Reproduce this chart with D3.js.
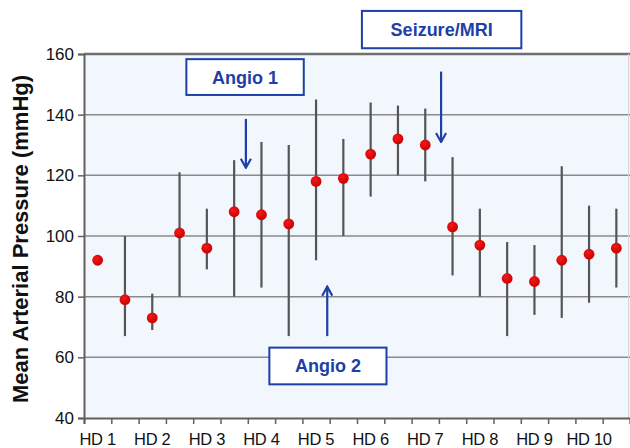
<!DOCTYPE html>
<html>
<head>
<meta charset="utf-8">
<script src="https://cdn.jsdelivr.net/npm/d3@7"></script>
<style>
  body { margin: 0; background: #fff; }
  text { font-family: "Liberation Sans", Arial, sans-serif; }
</style>
</head>
<body>
<div id="chart"></div>
<script>
// one slot per half-day, labels every other slot
var slots = d3.range(20);
var dayLabels = ["HD 1", "HD 2", "HD 3", "HD 4", "HD 5", "HD 6", "HD 7", "HD 8", "HD 9", "HD 10"];
var mapMean = [92, 79, 73, 101, 96, 108, 107, 104, 118, 119, 127, 132, 130, 103, 97, 86, 85, 92, 94, 96];
var mapHigh = [null, 100, 81, 121, 109, 125, 131, 130, 145, 132, 144, 143, 142, 126, 109, 98, 97, 123, 110, 109];
var mapLow  = [null, 67, 69, 80, 89, 80, 83, 67, 92, 100, 113, 120, 118, 87, 80, 67, 74, 73, 78, 83];
var yTicks = [40, 60, 80, 100, 120, 140, 160];

// annotations: x in slot units, y in mmHg
var notes = [
  {label: "Angio 1",     x0: 3.75, x1: 8.05,  y0: 158.3, y1: 146.5, ax: 5.93,  ay0: 138.6, ay1: 122.5},
  {label: "Seizure/MRI", x0: 10.18, x1: 16.02, y0: 174.2, y1: 161.9, ax: 13.08, ay0: 154.2, ay1: 131},
  {label: "Angio 2",     x0: 6.79, x1: 11.08, y0: 63.2,  y1: 51.1,  ax: 8.91,  ay0: 67,    ay1: 83.3}
];

var width = 630, height = 448;
var margin = {top: 54, right: 0, bottom: 30, left: 84};

var svg = d3.select("#chart").append("svg")
    .attr("width", width)
    .attr("height", height);

var x = d3.scaleBand()
    .domain(slots)
    .range([margin.left, width - margin.right]);

var xl = d3.scaleLinear()
    .domain([0, slots.length])
    .range([margin.left, width - margin.right]);

var y = d3.scaleLinear()
    .domain([40, 160])
    .range([height - margin.bottom, margin.top]);

var defs = svg.append("defs");
var grad = defs.append("radialGradient")
    .attr("id", "dotgrad")
    .attr("cx", "40%").attr("cy", "35%").attr("r", "65%");
grad.append("stop").attr("offset", "0%").attr("stop-color", "#f21a1a");
grad.append("stop").attr("offset", "100%").attr("stop-color", "#cc0000");

var marker = defs.append("marker")
    .attr("id", "arrowhead")
    .attr("viewBox", "0 0 10 10")
    .attr("refX", 9).attr("refY", 5)
    .attr("markerWidth", 12).attr("markerHeight", 12)
    .attr("markerUnits", "userSpaceOnUse")
    .attr("orient", "auto");
marker.append("path")
    .attr("d", "M1.5,0.8 L9,5 L1.5,9.2")
    .attr("fill", "none")
    .attr("stroke", "#1c3fa8")
    .attr("stroke-width", 1.8);

// plot background
svg.append("rect")
    .attr("x", margin.left)
    .attr("y", y(160))
    .attr("width", width - margin.right - margin.left)
    .attr("height", y(40) - y(160))
    .attr("fill", "#f2f6fd");

// gridlines
svg.append("g")
    .selectAll("line")
    .data(yTicks.slice(1))
    .enter().append("line")
    .attr("x1", margin.left)
    .attr("x2", width - margin.right)
    .attr("y1", function(d) { return y(d); })
    .attr("y2", function(d) { return y(d); })
    .attr("stroke", function(d) { return d === 160 ? "#707070" : "#8a8a8a"; })
    .attr("stroke-width", function(d) { return d === 160 ? 2.5 : 1.5; });

svg.append("line")
    .attr("x1", width - 1.5).attr("x2", width - 1.5)
    .attr("y1", y(160)).attr("y2", y(40))
    .attr("stroke", "#d0d4dc")
    .attr("stroke-width", 1);

// y axis
var yAxis = svg.append("g")
    .attr("transform", "translate(" + margin.left + ",0)")
    .call(d3.axisLeft(y).tickValues(yTicks).tickSize(6).tickPadding(4));
yAxis.select(".domain").attr("stroke", "#606060").attr("stroke-width", 2);
yAxis.selectAll(".tick line").attr("stroke", "#606060").attr("stroke-width", 1.5);
yAxis.selectAll(".tick text")
    .attr("fill", "#111")
    .style("font-size", "17px")
    .style("font-family", "'Liberation Sans', Arial, sans-serif");

// x axis: ticks at slot boundaries, labels under even slots
var xAxis = svg.append("g")
    .attr("transform", "translate(0," + y(40) + ")")
    .call(d3.axisBottom(xl).tickValues(d3.range(0, slots.length + 1)).tickSize(6).tickFormat(""));
xAxis.select(".domain").attr("stroke", "#606060").attr("stroke-width", 2);
xAxis.selectAll(".tick line").attr("stroke", "#606060").attr("stroke-width", 1.5);

svg.append("g")
    .selectAll("text")
    .data(dayLabels)
    .enter().append("text")
    .attr("x", function(d, i) { return x(i * 2) + x.bandwidth() / 2; })
    .attr("y", y(40) + 27)
    .attr("text-anchor", "middle")
    .attr("fill", "#111")
    .style("font-size", "16.5px")
    .style("letter-spacing", "-0.3px")
    .text(function(d) { return d; });

// y title
svg.append("text")
    .attr("transform", "translate(28," + (y(100) + 3) + ") rotate(-90)")
    .attr("text-anchor", "middle")
    .attr("fill", "#111")
    .style("font-size", "22px")
    .style("font-weight", "bold")
    .text("Mean Arterial Pressure (mmHg)");

// error bars
svg.append("g")
    .selectAll("line")
    .data(slots.filter(function(i) { return mapHigh[i] !== null; }))
    .enter().append("line")
    .attr("x1", function(i) { return x(i) + x.bandwidth() / 2; })
    .attr("x2", function(i) { return x(i) + x.bandwidth() / 2; })
    .attr("y1", function(i) { return y(mapHigh[i]); })
    .attr("y2", function(i) { return y(mapLow[i]); })
    .attr("stroke", "#555")
    .attr("stroke-width", 2.2);

// mean points
svg.append("g")
    .selectAll("circle")
    .data(slots)
    .enter().append("circle")
    .attr("cx", function(i) { return x(i) + x.bandwidth() / 2; })
    .attr("cy", function(i) { return y(mapMean[i]); })
    .attr("r", 5.4)
    .attr("fill", "url(#dotgrad)");

// annotation boxes and arrows
var ann = svg.append("g").selectAll("g")
    .data(notes)
    .enter().append("g");

ann.append("rect")
    .attr("x", function(d) { return xl(d.x0); })
    .attr("y", function(d) { return y(d.y0); })
    .attr("width", function(d) { return xl(d.x1) - xl(d.x0); })
    .attr("height", function(d) { return y(d.y1) - y(d.y0); })
    .attr("fill", "#fff")
    .attr("stroke", "#1c3fa8")
    .attr("stroke-width", 2);

ann.append("text")
    .attr("x", function(d) { return (xl(d.x0) + xl(d.x1)) / 2; })
    .attr("y", function(d) { return (y(d.y0) + y(d.y1)) / 2 + 6.5; })
    .attr("text-anchor", "middle")
    .attr("fill", "#1c3fa8")
    .style("font-size", "18px")
    .style("font-weight", "bold")
    .text(function(d) { return d.label; });

ann.append("line")
    .attr("x1", function(d) { return xl(d.ax); })
    .attr("x2", function(d) { return xl(d.ax); })
    .attr("y1", function(d) { return y(d.ay0); })
    .attr("y2", function(d) { return y(d.ay1); })
    .attr("stroke", "#1c3fa8")
    .attr("stroke-width", 2.2)
    .attr("marker-end", "url(#arrowhead)");
</script>
</body>
</html>
